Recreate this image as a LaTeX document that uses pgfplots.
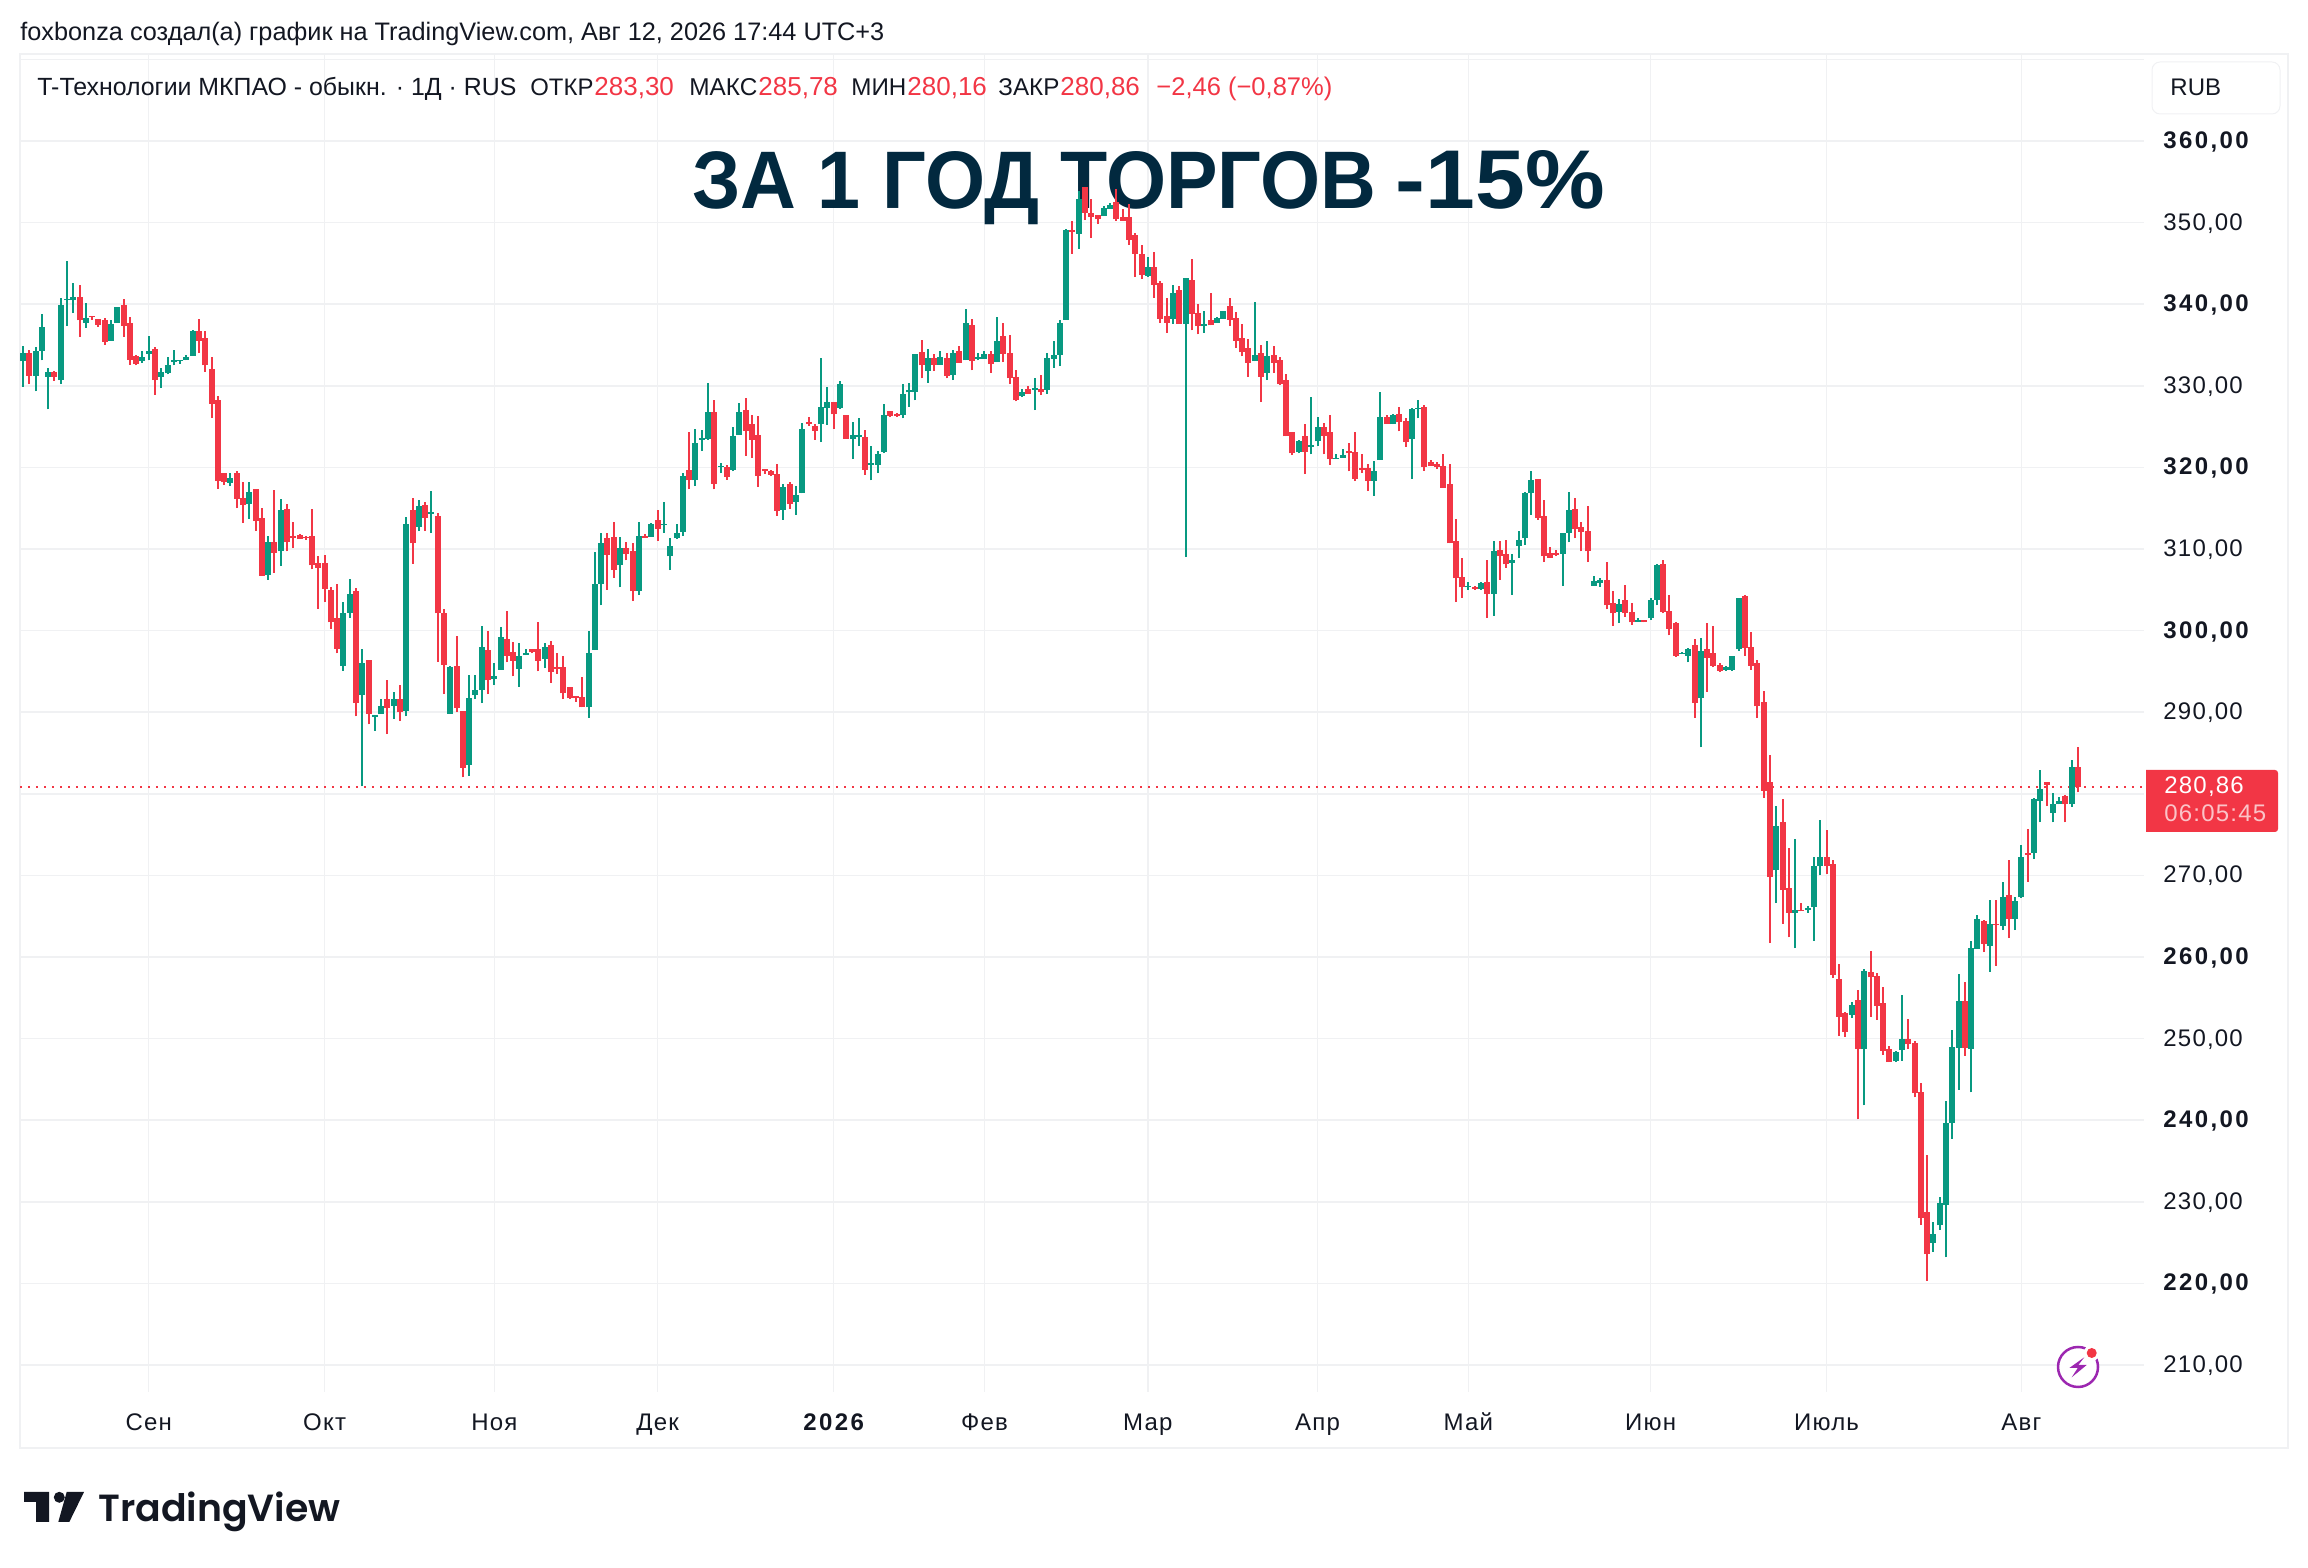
\documentclass[border=0pt]{standalone}
\usepackage{fontspec}
\usepackage{graphicx}
\usepackage{pgfplots}
\usepackage{pgfplotstable}
\pgfplotsset{compat=1.18}
\setmainfont{Liberation Sans}
\newfontfamily\lr[LetterSpace=5]{Liberation Sans}
\newfontfamily\lb[LetterSpace=10]{Liberation Sans Bold}
\newfontfamily\tv{Poppins SemiBold}
\definecolor{cg}{HTML}{089981}
\definecolor{cr}{HTML}{F23645}
\definecolor{ink}{HTML}{131722}
\definecolor{gridc}{HTML}{F0F1F3}
\definecolor{titlec}{HTML}{02293F}
\definecolor{purp}{HTML}{9C27B0}
\pgfplotstableread{
x o h l c
0 333.0 334.9 329.9 334.0
2 331.2 334.8 329.3 334.2
3 334.3 338.8 333.1 337.2
4 331.1 332.2 327.1 331.7
6 330.7 340.8 330.2 339.9
7 340.5 345.3 337.3 340.6
8 340.5 342.6 338.9 340.9
10 337.7 340.1 337.1 338.3
14 335.5 338.1 335.5 337.6
15 337.7 339.7 337.7 339.7
19 333.0 334.2 332.8 333.5
20 333.9 336.1 333.1 334.2
22 331.1 332.2 329.7 331.7
23 331.6 333.5 331.4 332.6
24 332.9 334.4 332.5 333.1
25 333.0 333.2 332.7 333.2
26 333.1 333.8 333.1 333.5
27 333.7 336.8 333.7 336.7
33 318.1 319.3 317.7 318.7
36 315.5 318.2 313.7 317.0
39 306.8 311.6 306.2 310.8
41 309.7 316.1 307.9 314.8
51 295.7 303.5 295.1 302.1
52 302.2 306.3 301.6 304.5
54 292.1 297.7 280.9 296.0
56 289.4 289.6 287.7 289.6
57 289.8 291.6 289.8 290.8
59 290.8 292.5 289.2 291.6
61 290.2 313.9 289.5 313.0
63 312.7 316.0 312.2 315.3
65 314.3 317.1 312.0 314.5
68 289.8 295.6 289.8 295.5
71 283.5 294.6 282.2 291.7
72 292.1 294.5 291.6 292.7
73 292.7 300.5 291.1 298.0
75 294.1 296.0 293.3 294.4
76 295.2 300.4 295.2 299.2
79 295.3 298.5 293.1 296.9
80 297.0 297.8 297.0 297.2
83 296.5 298.5 295.4 298.0
90 290.6 299.9 289.3 297.2
91 297.6 309.6 297.6 305.7
92 305.7 312.0 303.1 310.7
95 308.0 311.5 305.3 310.1
98 304.9 313.3 304.4 311.6
100 311.5 313.2 311.5 313.0
102 312.9 315.8 312.0 313.1
103 309.1 311.3 307.4 310.4
104 311.3 313.0 311.2 311.9
105 312.1 319.3 311.6 319.0
107 318.4 324.7 317.7 323.0
108 323.4 324.6 322.0 323.6
109 323.5 330.4 323.4 326.8
111 320.0 320.5 319.3 320.2
113 319.7 324.9 319.5 323.8
114 324.0 327.9 324.0 326.8
121 314.8 318.0 313.6 317.6
123 315.8 317.7 314.2 316.6
124 316.9 325.4 316.8 324.7
127 325.3 333.4 323.1 327.4
128 327.3 329.9 325.2 328.0
130 327.3 330.6 327.1 330.2
132 323.5 325.6 321.0 324.0
133 323.7 326.0 322.6 324.0
135 320.3 322.6 318.4 320.5
136 320.3 322.0 319.3 321.6
137 321.9 327.8 321.8 326.4
140 326.4 330.2 326.0 329.0
141 329.2 330.4 327.4 329.5
142 329.2 333.9 328.2 333.9
144 331.8 334.5 330.4 333.4
146 332.6 334.2 332.6 333.5
148 331.3 334.4 330.7 334.0
150 333.1 339.4 333.1 337.7
152 333.3 334.0 333.1 333.5
153 333.3 334.3 333.3 333.9
155 332.9 338.4 332.9 335.5
159 328.7 329.6 328.6 329.2
161 329.5 330.9 327.0 329.7
163 329.5 334.0 329.0 333.4
164 333.3 335.5 332.2 333.8
165 333.8 338.1 332.4 337.7
166 338.1 349.2 338.1 349.1
168 348.6 353.9 346.8 352.9
172 350.8 352.0 350.8 351.8
173 351.7 352.4 351.7 352.2
179 343.5 345.8 343.3 344.6
183 338.2 342.4 337.6 341.4
185 337.6 343.2 309.0 343.2
188 337.3 339.2 336.5 337.6
190 337.7 338.4 337.7 338.3
191 338.2 339.2 338.2 339.2
196 333.0 340.3 333.0 333.8
198 331.6 335.5 330.7 333.6
203 321.9 323.3 321.7 323.2
205 322.5 328.6 321.6 322.8
206 323.2 326.2 322.6 324.9
209 321.0 321.6 321.0 321.2
210 321.2 322.2 321.2 321.5
215 318.3 320.8 316.5 319.5
216 320.9 329.2 320.9 326.2
218 325.3 326.5 325.3 326.4
221 323.5 327.3 318.6 327.1
222 327.1 328.2 326.0 327.3
230 305.3 306.0 305.0 305.5
232 305.1 306.0 305.0 305.8
234 304.5 311.0 301.8 309.8
237 308.3 309.4 304.4 308.6
238 310.4 312.2 308.9 311.1
239 311.3 317.0 310.5 316.9
240 316.8 319.5 314.2 318.5
245 309.4 312.0 305.5 311.9
246 312.0 317.0 310.8 314.8
250 305.5 306.7 305.5 306.1
251 305.8 306.5 305.4 306.2
254 302.3 303.9 300.9 303.3
257 301.1 301.5 301.1 301.3
259 301.5 304.0 301.3 303.8
260 303.7 308.2 303.1 308.0
264 297.1 297.4 297.1 297.3
265 296.9 297.9 296.1 297.7
267 291.7 299.1 285.7 297.5
271 295.2 295.7 295.1 295.5
272 295.2 296.9 295.1 296.9
273 297.7 304.0 297.5 304.0
279 270.6 278.5 266.6 276.1
282 265.4 274.4 261.1 265.7
284 265.7 266.2 265.4 266.0
285 266.1 272.2 262.0 271.1
286 271.1 276.8 270.0 272.3
291 252.9 254.5 252.5 254.1
293 248.7 258.5 241.8 258.3
298 247.2 248.5 247.1 248.3
299 248.6 255.3 247.3 249.9
304 225.0 227.5 223.9 226.0
305 227.1 230.6 226.6 229.8
306 229.6 242.4 223.2 239.6
307 239.6 251.1 237.7 249.0
308 248.9 257.9 243.7 254.6
310 248.7 261.9 243.4 261.1
311 261.0 265.2 261.0 264.7
313 261.4 267.0 258.2 264.0
315 263.8 269.2 263.3 267.4
317 264.7 267.4 263.3 266.8
318 267.3 273.7 267.2 272.3
320 272.8 279.5 272.0 279.3
321 279.1 282.9 276.5 280.6
323 277.7 280.1 276.5 278.7
324 278.7 279.6 278.7 279.1
326 278.7 284.1 278.4 283.3
}\greentbl
\pgfplotstableread{
x o h l c
1 334.0 334.4 330.2 331.2
5 331.7 331.8 330.6 331.1
9 340.9 342.3 336.0 338.0
11 338.6 338.6 338.1 338.4
12 338.2 338.2 337.2 337.5
13 338.0 338.3 335.0 335.4
16 339.9 340.6 336.0 337.3
17 337.7 338.4 332.6 333.2
18 333.7 333.8 332.5 332.7
21 334.5 334.8 328.9 330.7
28 336.7 338.2 334.0 335.5
29 335.8 336.7 331.7 332.5
30 332.0 333.5 326.1 327.8
31 328.2 328.7 317.4 318.3
32 319.3 319.3 317.9 318.2
34 319.3 319.6 315.0 316.1
35 316.2 318.2 313.2 315.4
37 317.3 317.3 312.2 313.4
38 313.8 315.0 306.7 306.7
40 310.8 317.2 307.1 309.5
42 314.9 315.5 309.7 310.8
43 311.6 313.3 310.1 311.3
44 311.7 311.8 311.2 311.2
45 311.5 311.6 311.1 311.3
46 311.6 314.9 307.5 308.0
47 308.3 309.2 302.7 307.7
48 308.3 309.3 303.5 305.1
49 305.0 305.4 300.2 301.0
50 301.6 305.7 297.2 297.8
53 304.9 305.2 289.5 291.1
55 296.4 296.4 288.5 289.8
58 291.6 293.9 287.3 290.5
60 291.6 293.3 288.9 290.0
62 314.8 316.2 308.2 310.7
64 315.4 315.8 312.2 313.8
66 314.0 314.4 296.2 302.1
67 302.2 302.6 292.2 295.8
69 295.7 299.3 290.0 290.5
70 290.2 290.2 282.0 283.2
74 297.6 300.0 292.2 293.9
77 299.0 302.4 296.1 296.9
78 297.4 298.6 294.4 296.3
81 297.7 297.7 297.2 297.4
82 297.8 301.0 295.0 296.3
84 298.2 298.7 293.6 294.9
85 295.5 297.2 294.7 295.3
86 295.5 296.9 291.6 292.3
87 293.1 293.1 291.6 291.7
88 292.0 292.0 291.3 291.7
89 291.9 294.3 290.6 290.6
93 311.3 311.9 305.0 309.3
94 311.5 313.3 306.5 307.4
96 310.1 310.9 308.6 309.4
97 309.8 310.7 303.6 304.8
99 311.6 311.8 311.4 311.4
101 313.6 314.8 311.0 312.5
106 319.7 324.3 317.3 318.4
110 326.8 328.2 317.3 318.0
112 320.1 320.3 318.5 318.8
115 327.0 328.5 321.4 324.5
116 325.3 326.4 321.2 323.4
117 324.0 326.3 317.6 319.0
118 319.8 319.8 319.2 319.5
119 319.5 319.7 318.9 319.1
120 319.2 320.4 314.1 314.7
122 318.0 318.2 314.9 315.5
125 325.6 326.2 325.1 325.3
126 325.1 325.3 323.4 324.5
129 328.0 328.0 324.7 326.5
131 326.4 326.4 323.5 323.5
134 323.7 324.6 319.1 319.7
138 326.9 326.9 326.2 326.3
139 326.5 326.7 326.2 326.3
143 334.1 335.6 330.9 332.5
145 333.4 333.9 331.8 332.6
147 333.4 334.0 330.9 331.2
149 334.3 334.9 332.8 332.8
151 337.4 338.2 331.9 333.0
154 333.9 334.3 331.6 332.7
156 336.1 337.7 332.9 333.9
157 334.0 336.2 330.2 330.9
158 331.1 331.9 328.1 328.2
160 329.6 330.0 329.0 329.0
162 329.6 331.3 328.9 329.2
167 349.1 350.2 346.2 348.9
169 354.3 354.3 350.3 351.2
170 351.2 352.9 348.1 350.7
171 350.9 350.9 349.8 350.4
174 352.5 354.1 350.2 350.4
175 350.7 351.7 350.2 350.2
176 350.7 352.3 347.3 347.9
177 348.5 348.7 343.3 346.2
178 346.2 347.3 343.1 343.6
180 344.6 346.4 340.8 342.4
181 342.6 342.8 337.7 338.2
182 338.5 340.8 336.5 337.7
184 341.7 342.2 337.6 337.6
186 343.0 345.5 336.8 338.8
187 338.9 340.0 336.3 337.3
189 338.1 341.4 337.4 337.4
192 339.8 340.8 337.3 338.1
193 338.3 339.0 334.6 335.5
194 335.8 337.6 333.6 334.1
195 334.6 335.7 331.1 332.8
197 334.0 335.0 328.0 331.1
199 333.8 334.9 331.6 332.8
200 333.1 333.5 330.1 330.2
201 330.7 331.4 323.8 323.8
202 324.3 324.3 321.5 321.7
204 323.8 325.3 319.2 321.9
207 324.9 325.4 321.6 323.9
208 324.3 326.4 320.3 321.0
211 322.0 323.0 319.5 321.7
212 321.9 324.3 318.3 318.6
213 319.9 321.6 319.3 319.7
214 319.9 320.4 317.1 318.3
217 326.2 326.4 325.3 325.3
219 326.6 327.4 324.4 325.5
220 325.7 326.0 322.5 323.1
223 327.4 327.6 319.6 320.1
224 320.7 320.9 320.2 320.2
225 320.4 320.6 319.8 320.0
226 320.2 321.6 317.5 317.5
227 318.0 320.4 310.7 310.7
228 311.0 313.7 303.5 306.4
229 306.6 308.9 304.0 305.3
231 305.4 305.5 305.0 305.1
233 306.0 308.7 301.6 304.5
235 309.9 311.0 306.2 309.1
236 309.4 311.1 307.7 308.1
241 318.6 318.6 313.6 313.8
242 314.0 316.0 308.4 309.1
243 309.5 310.2 308.9 308.9
244 309.5 309.9 309.2 309.3
247 314.9 316.2 311.3 312.4
248 312.7 313.3 309.7 312.1
249 312.2 315.3 308.4 309.7
252 306.2 308.4 302.6 303.1
253 303.4 304.8 300.6 302.1
255 303.8 305.6 301.7 302.1
256 302.3 303.4 300.7 301.0
258 301.3 301.3 301.0 301.1
261 308.2 308.6 302.1 302.3
262 302.4 304.3 299.4 300.2
263 300.9 301.0 296.8 296.9
266 298.2 299.0 289.3 291.1
268 297.7 300.9 292.5 296.7
269 297.3 300.5 295.5 295.7
270 295.8 296.0 294.9 295.1
274 304.2 304.4 296.9 297.9
275 298.0 299.8 295.2 295.7
276 296.0 296.4 289.3 290.7
277 291.2 292.6 279.5 280.4
278 281.4 284.7 261.7 269.8
280 276.5 279.3 264.1 268.2
281 268.4 273.3 262.4 265.4
283 265.8 266.6 265.6 265.6
287 272.3 275.6 270.2 271.2
288 271.4 271.9 257.4 257.8
289 257.3 259.1 250.3 252.7
290 253.1 253.3 250.2 250.8
292 254.7 256.0 240.1 248.7
294 258.2 260.7 252.7 257.5
295 257.7 258.0 252.3 254.0
296 254.4 256.3 248.0 248.5
297 248.7 249.1 247.1 247.1
300 250.0 252.4 248.7 249.3
301 249.5 249.7 242.8 243.3
302 243.4 244.6 227.2 228.0
303 228.8 235.7 220.3 223.6
309 254.6 256.9 247.9 248.9
312 264.4 264.5 260.6 261.6
314 264.1 267.0 258.9 263.9
316 267.6 271.9 262.3 264.7
319 272.8 275.7 269.2 272.5
322 281.4 281.5 278.5 281.1
325 279.7 279.9 276.5 278.7
327 283.30 285.78 280.16 280.86
}\redtbl
\begin{document}
\begin{tikzpicture}
\begin{scope}[x=0.5pt,y=-0.5pt,yshift=784pt]
\path[use as bounding box] (0,0) rectangle (2308,1568);
\draw[gridc,line width=1pt] (20,54) rectangle (2288,1448);
\node[anchor=base west,inner sep=0pt,text=ink] at (20,41) {\resizebox{432pt}{!}{foxbonza создал(а) график на TradingView.com, Авг 12, 2026 17:44 UTC+3}};
\end{scope}
\begin{axis}[
  at={(10pt,88pt)},anchor=south west,scale only axis,
  width=1062pt,height=669pt,
  xmin=-0.477,xmax=337.52,ymin=206.69,ymax=370.66,
  clip mode=individual,
  axis line style={draw=none},
  tick style={draw=none},
  major tick length=0pt,
  grid=major,
  grid style={gridc,line width=0.75pt},
  xtick={20,48,75,101,129,153,179,206,230,259,287,318},
  xticklabels={{\lr Сен},{\lr Окт},{\lr Ноя},{\lr Дек},{\lb 2026},{\lr Фев},{\lr Мар},{\lr Апр},{\lr Май},{\lr Июн},{\lr Июль},{\lr Авг}},
  xticklabel style={anchor=base,font=\fontsize{12}{14}\selectfont,text=ink,inner sep=0pt,yshift=-19.5pt},
  ytick={210,220,230,240,250,260,270,280,290,300,310,320,330,340,350,360,370},
  yticklabels={{\lr 210,00},{\lb 220,00},{\lr 230,00},{\lb 240,00},{\lr 250,00},{\lb 260,00},{\lr 270,00},{},{\lr 290,00},{\lb 300,00},{\lr 310,00},{\lb 320,00},{\lr 330,00},{\lb 340,00},{\lr 350,00},{\lb 360,00},{}},
  ytick pos=right,yticklabel pos=right,
  yticklabel style={anchor=base west,font=\fontsize{12}{14}\selectfont,text=ink,inner sep=0pt,xshift=9.5pt,yshift=-3.75pt},
]
\node[anchor=base west,inner sep=0pt,text=titlec] at (axis cs:106.46,351.67) {\resizebox{342pt}{28.5pt}{\bfseries ЗА 1 ГОД ТОРГОВ}};
\node[anchor=base west,inner sep=0pt,text=titlec] at (axis cs:218.41,351.67) {\resizebox{104.5pt}{29pt}{\bfseries -15\%}};
\addplot[cr,line width=1pt,dash pattern=on 1pt off 3pt,forget plot] coordinates {(-0.477,280.86) (337.52,280.86)};
\addplot[no markers,draw=none,forget plot,error bars/.cd,y dir=plus,y explicit,error mark=none,error bar style={draw=cg,solid,line width=1pt}]
  table[x=x,y=l,y error plus expr=\thisrow{h}-\thisrow{l}] {\greentbl};
\addplot[no markers,draw=none,forget plot,error bars/.cd,y dir=plus,y explicit,error mark=none,error bar style={draw=cg,solid,line width=3pt}]
  table[x=x,y=o,y error plus expr=\thisrow{c}-\thisrow{o}] {\greentbl};
\addplot[no markers,draw=none,forget plot,error bars/.cd,y dir=plus,y explicit,error mark=none,error bar style={draw=cr,solid,line width=1pt}]
  table[x=x,y=l,y error plus expr=\thisrow{h}-\thisrow{l}] {\redtbl};
\addplot[no markers,draw=none,forget plot,error bars/.cd,y dir=plus,y explicit,error mark=none,error bar style={draw=cr,solid,line width=3pt}]
  table[x=x,y=c,y error plus expr=\thisrow{o}-\thisrow{c}] {\redtbl};
\end{axis}
\begin{scope}[x=0.5pt,y=-0.5pt,yshift=784pt]
\tikzset{t/.style={anchor=base west,inner sep=0pt,font=\fontsize{13}{15}\selectfont}}
\node[t,text=ink] at (37,96) {\resizebox{239.5pt}{!}{T-Технологии МКПАО - обыкн. · 1Д · RUS}};
\node[t,text=ink] at (530,96) {\resizebox{31.5pt}{!}{ОТКР}};
\node[t,text=cr] at (594,96) {283,30};
\node[t,text=ink] at (689,96) {\resizebox{34pt}{!}{МАКС}};
\node[t,text=cr] at (758,96) {285,78};
\node[t,text=ink] at (851,96) {\resizebox{27.5pt}{!}{МИН}};
\node[t,text=cr] at (907,96) {280,16};
\node[t,text=ink] at (998,96) {\resizebox{30.5pt}{!}{ЗАКР}};
\node[t,text=cr] at (1060,96) {280,86};
\node[t,text=cr] at (1156,96) {\resizebox{88pt}{!}{−2,46 (−0,87\%)}};
% currency button
\draw[gridc,fill=white,line width=0.5pt,rounded corners=4pt] (2152,62) rectangle (2280,114);
\node[anchor=base west,inner sep=0pt,text=ink,font=\fontsize{12}{14}\selectfont] at (2170,96) {RUB};
% price tag
\fill[cr] (2146,770) [rounded corners=1.5pt] -- (2278,770) -- (2278,832) [sharp corners] -- (2146,832) -- cycle;
\node[anchor=base west,inner sep=0pt,text=white,font=\fontsize{12}{14}\selectfont] at (2164,794) {\lr 280,86};
\node[anchor=base west,inner sep=0pt,text=white,opacity=0.7,font=\fontsize{12}{14}\selectfont] at (2164,822) {\lr 06:05:45};
% icon
\draw[purp,fill=white,line width=1.25pt] (2078,1367) circle [radius=20];
\fill[white] (2091.7,1353) circle [radius=8];
\fill[cr] (2091.7,1353) circle [radius=5];
\fill[purp] (2084.3,1357.3) -- (2069.3,1368) -- (2077.7,1368) -- (2071.7,1377.3) -- (2086.7,1365) -- (2078.3,1365) -- cycle;
% logo
\fill[ink] (24,1492) -- (49,1492) -- (49,1522) -- (36,1522) -- (36,1502) -- (24,1502) -- cycle;
\fill[ink] (59.3,1497.3) circle [radius=5.5];
\fill[ink] (66.7,1492) -- (84,1492) -- (69.3,1522) -- (58.3,1522) -- cycle;
\node[anchor=base west,inner sep=0pt,text=ink] at (98,1522) {\resizebox{121pt}{!}{\tv TradingView}};
\end{scope}
\end{tikzpicture}
\end{document}
